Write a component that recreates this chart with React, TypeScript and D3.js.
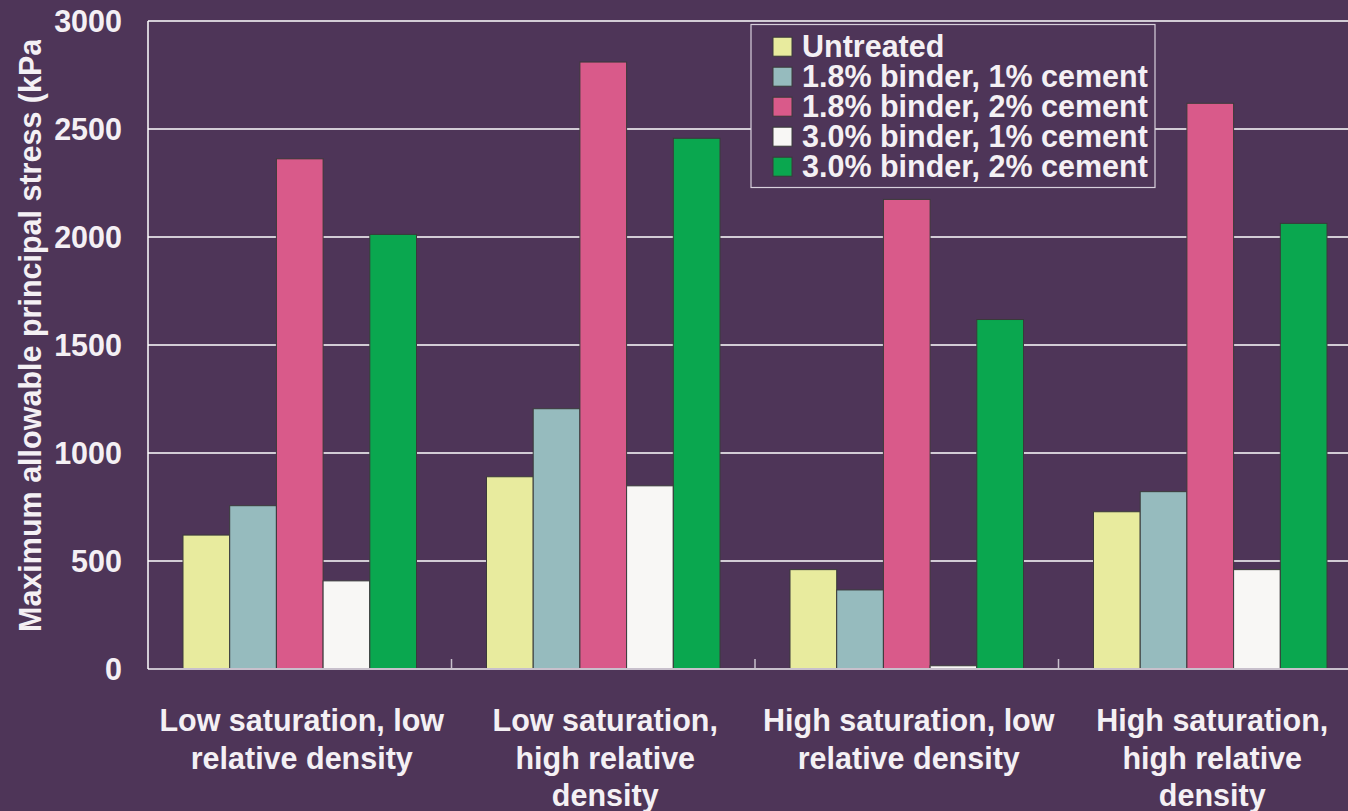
import * as d3 from "d3";
import { useEffect, useRef } from "react";

const groups = [
    ["Low saturation, low", "relative density"],
    ["Low saturation,", "high relative", "density"],
    ["High saturation, low", "relative density"],
    ["High saturation,", "high relative", "density"],
];

const seriesNames = [
    "Untreated",
    "1.8% binder, 1% cement",
    "1.8% binder, 2% cement",
    "3.0% binder, 1% cement",
    "3.0% binder, 2% cement",
];

const seriesColors = ["#e8eb9e", "#96bbbe", "#d95a8a", "#f8f7f5", "#0aa74f"];

// values per series, one entry per group
const untreated = [620, 890, 460, 728];
const binder18cem1 = [756, 1205, 366, 821];
const binder18cem2 = [2362, 2810, 2174, 2619];
const binder30cem1 = [408, 848, 15, 460];
const binder30cem2 = [2012, 2457, 1618, 2063];

const seriesValues = [untreated, binder18cem1, binder18cem2, binder30cem1, binder30cem2];

const yTicks = [0, 500, 1000, 1500, 2000, 2500, 3000];

const W = 1348, H = 811;
const BG = "#4e3558";
const FONT = "'Liberation Sans', Arial, sans-serif";

export default function App() {
    const svgRef = useRef<SVGSVGElement | null>(null);

    useEffect(() => {
        const svg = d3.select(svgRef.current);
        svg.selectAll("*").remove();

        const left = 148, right = 1362, top = 21, bottom = 669;

        svg.append("rect").attr("width", W).attr("height", H).attr("fill", BG);

        const x0 = d3.scaleBand<number>()
            .domain(groups.map((_, i) => i))
            .range([left, right]);

        const x1 = d3.scaleBand<number>()
            .domain(seriesNames.map((_, i) => i))
            .range([35, x0.bandwidth() - 35]);

        const y = d3.scaleLinear().domain([0, 3000]).range([bottom, top]);

        // gridlines
        svg.append("g")
            .selectAll("line")
            .data(yTicks.filter(t => t > 0))
            .join("line")
            .attr("x1", left).attr("x2", W)
            .attr("y1", d => y(d)).attr("y2", d => y(d))
            .attr("stroke", "#ffffff")
            .attr("stroke-width", 1.5);

        // group separator ticks
        svg.append("g")
            .selectAll("line")
            .data(groups.map((_, i) => i).slice(1))
            .join("line")
            .attr("x1", d => x0(d)!).attr("x2", d => x0(d)!)
            .attr("y1", bottom).attr("y2", bottom - 10)
            .attr("stroke", "#c8c0cc")
            .attr("stroke-width", 1.5);

        // bars
        const flat = seriesValues.flatMap((vals, s) => vals.map((v, g) => ({ s, g, v })));
        svg.append("g")
            .selectAll("rect")
            .data(flat)
            .join("rect")
            .attr("x", d => x0(d.g)! + x1(d.s)!)
            .attr("y", d => y(d.v))
            .attr("width", x1.bandwidth())
            .attr("height", d => bottom - y(d.v))
            .attr("fill", d => seriesColors[d.s])
            .attr("stroke", "#3a3a3a")
            .attr("stroke-width", 1);

        // axes lines
        svg.append("line")
            .attr("x1", left).attr("x2", W)
            .attr("y1", bottom).attr("y2", bottom)
            .attr("stroke", "#c8c0cc").attr("stroke-width", 2);
        svg.append("line")
            .attr("x1", left).attr("x2", left)
            .attr("y1", top).attr("y2", bottom)
            .attr("stroke", "#ffffff").attr("stroke-width", 1.5);

        // y tick labels
        svg.append("g")
            .selectAll("text")
            .data(yTicks)
            .join("text")
            .attr("x", 122)
            .attr("y", d => y(d) + 11)
            .attr("text-anchor", "end")
            .attr("font-family", FONT)
            .attr("font-weight", "bold")
            .attr("font-size", 30.5)
            .attr("fill", "#f4f0f4")
            .text(d => d);

        // x labels
        const xl = svg.append("g")
            .selectAll("text")
            .data(groups)
            .join("text")
            .attr("text-anchor", "middle")
            .attr("font-family", FONT)
            .attr("font-weight", "bold")
            .attr("font-size", 30.5)
            .attr("fill", "#f4f0f4");
        xl.each(function (lines, i) {
            const cx = x0(i)! + x0.bandwidth() / 2 + 2;
            d3.select(this)
                .selectAll("tspan")
                .data(lines)
                .join("tspan")
                .attr("x", cx)
                .attr("y", (_, k) => 731 + k * 37.5)
                .text(d => d);
        });

        // y title (clipped at top)
        svg.append("clipPath").attr("id", "ytclip")
            .append("rect").attr("x", 0).attr("y", 40).attr("width", 80).attr("height", 700);
        svg.append("g")
            .attr("clip-path", "url(#ytclip)")
            .append("text")
            .attr("transform", "translate(41,632) rotate(-90)")
            .attr("text-anchor", "start")
            .attr("font-family", FONT)
            .attr("font-weight", "bold")
            .attr("font-size", 30.5)
            .attr("fill", "#f4f0f4")
            .text("Maximum allowable principal stress (kPa)");

        // legend
        const lg = svg.append("g");
        lg.append("rect")
            .attr("x", 751).attr("y", 24.5)
            .attr("width", 404).attr("height", 163)
            .attr("fill", BG)
            .attr("stroke", "#d8d0dc").attr("stroke-width", 1.2);
        const row = lg.selectAll("g.row")
            .data(seriesNames)
            .join("g")
            .attr("class", "row")
            .attr("transform", (_, i) => `translate(0,${46.7 + i * 30})`);
        row.append("rect")
            .attr("x", 773).attr("y", -9.5)
            .attr("width", 19).attr("height", 19)
            .attr("fill", (_, i) => seriesColors[i])
            .attr("stroke", "#3a3a3a").attr("stroke-width", 1);
        row.append("text")
            .attr("x", 802)
            .attr("y", 10.5)
            .attr("font-family", FONT)
            .attr("font-weight", "bold")
            .attr("font-size", 30.5)
            .attr("fill", "#f4f0f4")
            .text(d => d);
    }, []);

    return (
        <svg
            ref={svgRef}
            width={W}
            height={H}
            style={{ position: "absolute", left: 0, top: 0, display: "block" }}
        />
    );
}
